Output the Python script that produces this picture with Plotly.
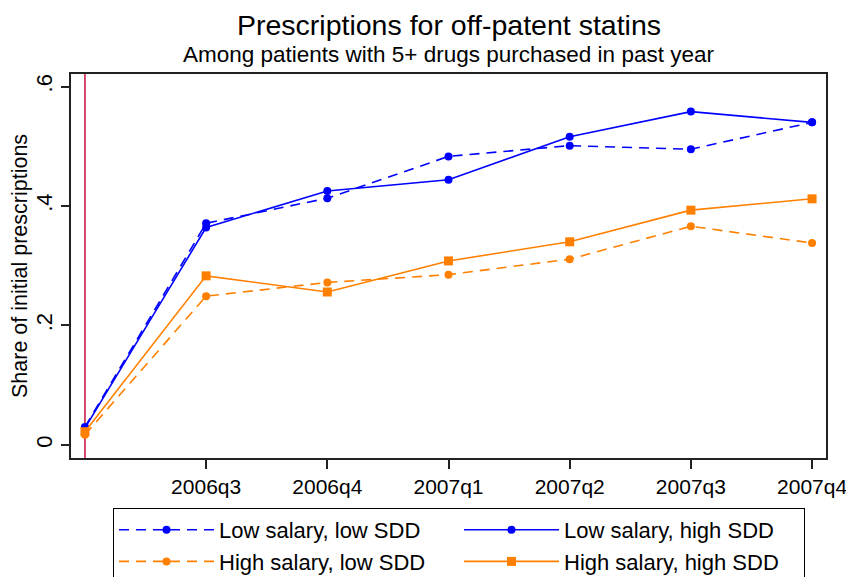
import plotly.graph_objects as go

quarters = ["2006q2", "2006q3", "2006q4", "2007q1", "2007q2", "2007q3", "2007q4"]
low_sal_low_sdd = [0.030, 0.371, 0.413, 0.483, 0.501, 0.495, 0.540]
low_sal_high_sdd = [0.028, 0.364, 0.425, 0.444, 0.516, 0.558, 0.540]
high_sal_low_sdd = [0.017, 0.249, 0.272, 0.285, 0.311, 0.366, 0.338]
high_sal_high_sdd = [0.022, 0.283, 0.256, 0.308, 0.340, 0.393, 0.412]
ytick_vals = [0, 0.2, 0.4, 0.6]
ytick_text = ["0", ".2", ".4", ".6"]
title_text = "Prescriptions for off-patent statins"
subtitle_text = "Among patients with 5+ drugs purchased in past year"

BLUE = "#0000FF"
ORANGE = "#FF8000"
RED = "#CC1F4A"
FONT = "Liberation Sans, Arial, sans-serif"

# page body has an 8px margin, so work in figure coordinates = window - 8
OFF = 8
W, H = 854 - OFF, 577 - OFF
ML, MR, MT, MB = 71 - OFF, 854 - 826, 74 - OFF, 577 - 458
plot_h = H - MT - MB
plot_w = W - ML - MR

fig = go.Figure()
series = [
    ("Low salary, low SDD", low_sal_low_sdd, BLUE, "10px,7px", "circle", 8),
    ("Low salary, high SDD", low_sal_high_sdd, BLUE, "solid", "circle", 8),
    ("High salary, low SDD", high_sal_low_sdd, ORANGE, "10px,7px", "circle", 8),
    ("High salary, high SDD", high_sal_high_sdd, ORANGE, "solid", "square", 9),
]
for name, vals, col, dash, sym, sz in series:
    fig.add_trace(go.Scatter(
        x=quarters, y=vals, name=name, mode="lines+markers",
        line=dict(color=col, width=1.6, dash=dash),
        marker=dict(color=col, symbol=sym, size=sz),
    ))

fig.add_shape(type="line", xref="x", yref="paper", x0=quarters[0], x1=quarters[0],
              y0=0, y1=1, line=dict(color=RED, width=1.6), layer="below")

fig.update_layout(
    width=W, height=H,
    margin=dict(l=ML, r=MR, t=MT, b=MB, autoexpand=False),
    paper_bgcolor="white", plot_bgcolor="white",
    font=dict(family=FONT, color="black", size=20),
    showlegend=True,
    legend=dict(
        orientation="h", xref="container", yref="container",
        x=(113 - OFF) / W, xanchor="left", y=1 - (508 - OFF) / H, yanchor="top",
        entrywidth=235, entrywidthmode="pixels", itemwidth=95,
        bordercolor="black", borderwidth=1, bgcolor="white",
        font=dict(size=22), tracegroupgap=0,
    ),
)
fig.add_annotation(text=title_text, xref="paper", yref="paper",
                   x=0.5, y=1 + MT / plot_h, showarrow=False,
                   font=dict(size=28.5), yanchor="top", borderpad=0)
fig.add_annotation(text=subtitle_text, xref="paper", yref="paper",
                   x=0.5, y=1 + (MT - (41 - OFF)) / plot_h, showarrow=False,
                   font=dict(size=22.5), yanchor="top", borderpad=0)
fig.add_annotation(text="Share of initial prescriptions", xref="paper", yref="paper",
                   x=((20 - OFF) - ML) / plot_w, y=0.5, textangle=-90, showarrow=False,
                   font=dict(size=21.5), xanchor="center", yanchor="middle")

fig.update_xaxes(
    type="category", categoryorder="array", categoryarray=quarters,
    range=[-0.115, 6.115], automargin=False,
    tickmode="array", tickvals=quarters[1:], ticktext=quarters[1:],
    showline=True, linecolor="#222", linewidth=2, mirror=True,
    ticks="outside", ticklen=9, tickwidth=1.5, tickcolor="#222",
    showgrid=False, zeroline=False, tickfont=dict(size=21),
)
fig.update_yaxes(
    range=[-0.022, 0.621], automargin=False,
    tickmode="array", tickvals=ytick_vals, ticktext=ytick_text,
    tickangle=-90,
    showline=True, linecolor="#222", linewidth=2, mirror=True,
    ticks="outside", ticklen=8, tickwidth=1.5, tickcolor="#222",
    showgrid=False, zeroline=False, tickfont=dict(size=22),
)

fig.write_html("out.html")
